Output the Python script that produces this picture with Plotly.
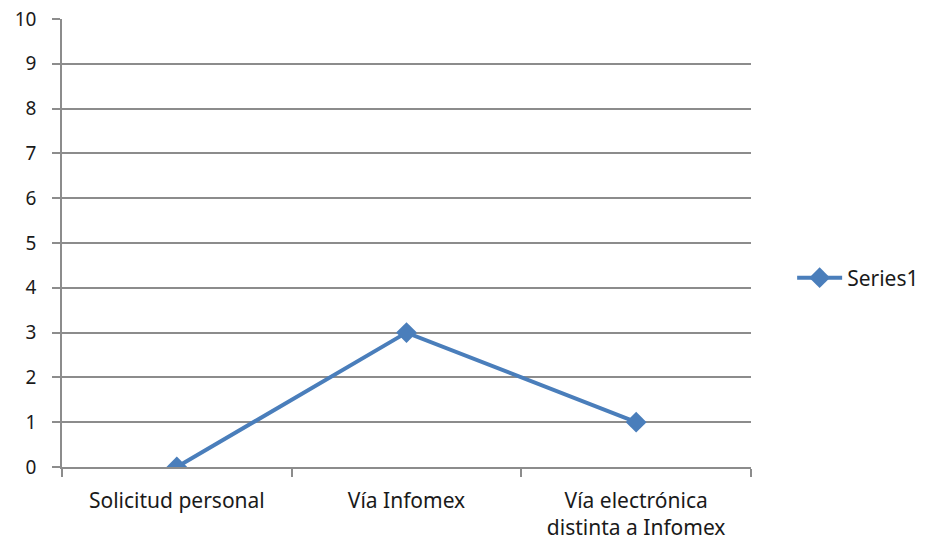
import plotly.graph_objects as go

categories = ["Solicitud personal", "Vía Infomex", "Vía electrónica<br>distinta a Infomex"]
values = [0, 3, 1]
y_ticks = list(range(0, 11))

fig = go.Figure()
fig.add_trace(go.Scatter(
    x=categories,
    y=values,
    mode="lines+markers",
    name="Series1",
    showlegend=True,
    line=dict(color="#4A7EBB", width=4),
    marker=dict(symbol="diamond", size=16, color="#4A7EBB"),
))

fig.update_layout(
    width=928,
    height=548,
    margin=dict(l=62, r=177, t=19, b=81),
    paper_bgcolor="white",
    plot_bgcolor="white",
    font=dict(family="Noto Sans", size=19, color="#1a1a1a"),
    showlegend=True,
    legend=dict(
        xref="container", yref="container",
        x=0.8536, y=0.4927, xanchor="left", yanchor="middle",
        font=dict(size=21), itemwidth=45,
    ),
)
fig.update_xaxes(
    type="category",
    range=[-0.5, 2.5],
    automargin=False,
    showgrid=False,
    showline=True,
    linecolor="#8c8c8c",
    linewidth=1.5,
    ticks="outside",
    tickson="boundaries",
    ticklen=8,
    tickcolor="#8c8c8c",
    tickwidth=1.5,
    tickfont=dict(size=21),
    ticklabelstandoff=14,
)
fig.update_yaxes(
    range=[0, 10],
    tickvals=y_ticks,
    automargin=False,
    showgrid=True,
    gridcolor="#8c8c8c",
    gridwidth=1.5,
    zeroline=False,
    showline=True,
    linecolor="#8c8c8c",
    linewidth=1.5,
    ticks="outside",
    ticklen=8,
    tickcolor="#8c8c8c",
    tickwidth=1.5,
    ticklabelstandoff=12,
    ticklabeloverflow="allow",
)

# drop the default 8px body margin so the figure sits flush in the window
fig.write_html(
    "out.html",
    config={"displayModeBar": False},
    post_script="document.body.style.margin = '0';",
)
